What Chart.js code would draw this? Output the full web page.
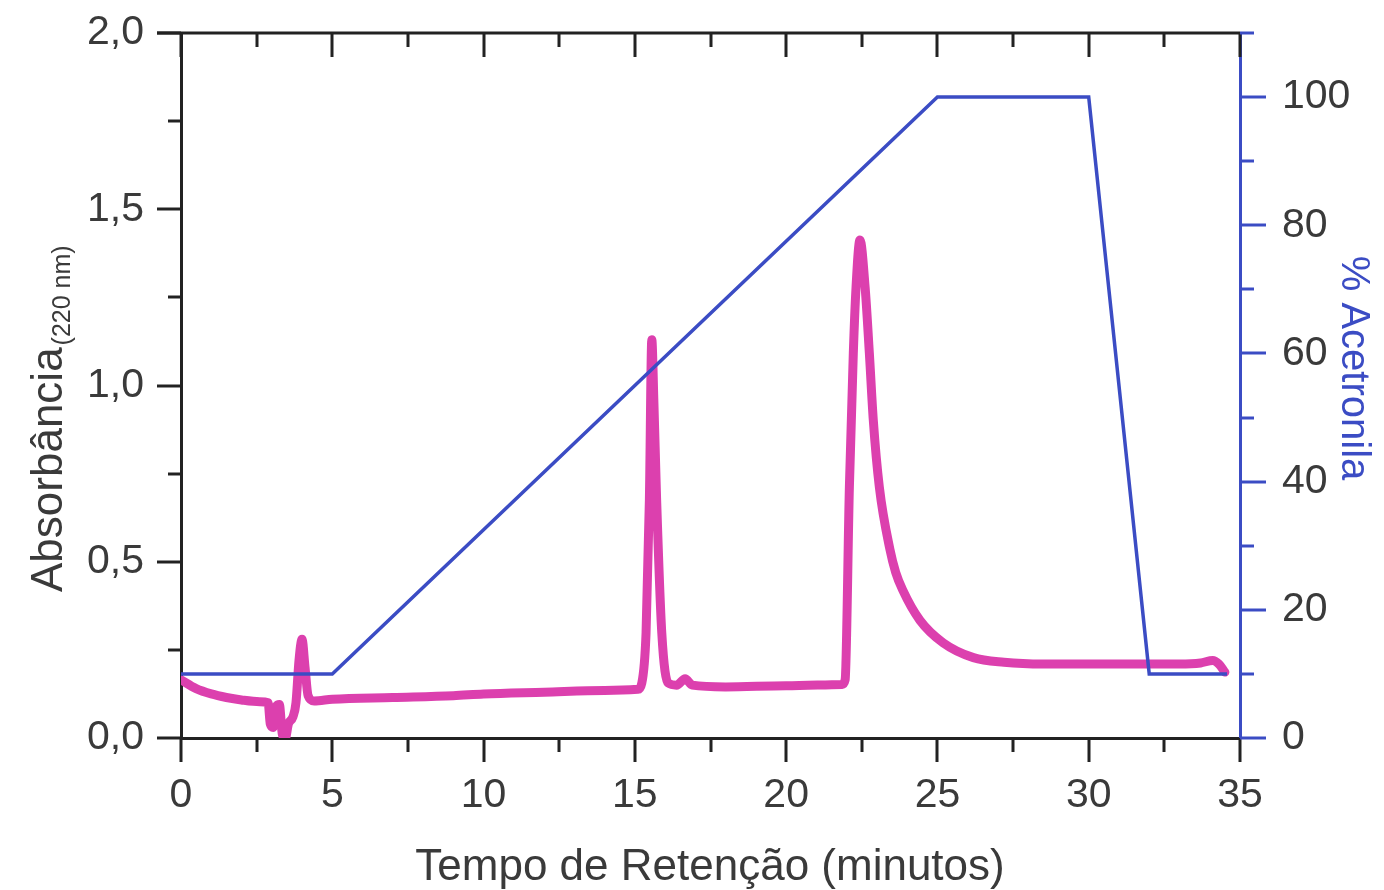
<!DOCTYPE html>
<html>
<head>
<meta charset="utf-8">
<script src="https://cdn.jsdelivr.net/npm/chart.js@4"></script>
<style>
  html, body { margin: 0; padding: 0; background: #ffffff; }
  #wrap { width: 1384px; height: 890px; }
</style>
</head>
<body>
<div id="wrap"><canvas id="grafico" width="1384" height="890"></canvas></div>
<script>
// tempo de retenção (min) e absorbância a 220 nm
const tempoAbs = [0, 0.5, 1.0, 1.5, 2.0, 2.6, 2.88, 2.95, 3.05, 3.15, 3.25, 3.35, 3.45, 3.55, 3.7, 3.8, 3.9, 4.0, 4.1, 4.2, 4.4,
  5, 7, 9, 10, 12, 14, 15.1, 15.23, 15.37, 15.48, 15.56, 15.63, 15.72, 15.89, 16.1, 16.38, 16.66, 16.9, 18, 20, 21.85,
  21.95, 22.09, 22.22, 22.31, 22.44, 22.61, 22.75, 22.88, 23.08, 23.43, 23.62, 23.85, 24.42, 25.19, 26.19, 27.2, 28.5, 30, 31, 32, 33, 33.7, 34.1, 34.3, 34.5];
const absorbancia = [0.165, 0.14, 0.125, 0.115, 0.108, 0.103, 0.10, 0.04, 0.03, 0.09, 0.095, 0.01, 0.0, 0.04, 0.06, 0.10, 0.22, 0.28, 0.2, 0.12, 0.105,
  0.11, 0.115, 0.12, 0.125, 0.13, 0.135, 0.138, 0.156, 0.298, 0.675, 1.13, 0.95, 0.675, 0.298, 0.156, 0.15, 0.168, 0.15, 0.145, 0.148, 0.152,
  0.165, 0.712, 1.092, 1.279, 1.413, 1.279, 1.092, 0.902, 0.712, 0.535, 0.47, 0.42, 0.334, 0.270, 0.228, 0.215, 0.21, 0.21, 0.21, 0.21, 0.21, 0.213, 0.22, 0.21, 0.187];

// gradiente de acetonitrila (%)
const tempoGrad = [0, 5, 25, 30, 32, 34.57];
const acetonitrila = [10, 10, 100, 100, 10, 10];

const rotulosX = [0, 5, 10, 15, 20, 25, 30, 35];

const corAbs = '#dc40ae';
const corGrad = '#3b4cc4';
const corEixo = '#222222';
const corTexto = '#3a3a3a';
const fonte = '"Liberation Sans", Arial, sans-serif';

function pares(xs, ys) {
    return xs.map((x, i) => ({ x: x, y: ys[i] }));
}

function semPadding(s) {
    s.paddingTop = 0;
    s.paddingBottom = 0;
    s.paddingLeft = 0;
    s.paddingRight = 0;
}

// marcas dos eixos (maiores e menores) e títulos
const eixosPlugin = {
    id: 'eixos',
    afterDraw(chart) {
        const ctx = chart.ctx;
        const sx = chart.scales.x, sy = chart.scales.y, sy1 = chart.scales.y1;
        const a = chart.chartArea;
        ctx.save();
        ctx.lineCap = 'butt';
        ctx.lineWidth = 3;
        ctx.strokeStyle = corEixo;

        // eixo superior
        ctx.beginPath();
        ctx.moveTo(a.left - 24, a.top);
        ctx.lineTo(a.right, a.top);
        ctx.stroke();

        // marcas em x (baixo para fora, cima para dentro)
        for (let t = 0; t <= 35.001; t += 2.5) {
            const px = Math.round(sx.getPixelForValue(t));
            const maior = Math.abs(t % 5) < 0.01;
            const len = maior ? 24 : 14;
            ctx.beginPath();
            ctx.moveTo(px, a.bottom);
            ctx.lineTo(px, a.bottom + len);
            ctx.moveTo(px, a.top);
            ctx.lineTo(px, a.top + len);
            ctx.stroke();
        }
        // marcas no eixo esquerdo
        for (let v = 0; v <= 2.001; v += 0.25) {
            const py = Math.round(sy.getPixelForValue(v));
            const maior = Math.abs((v * 2) % 1) < 0.01;
            const len = maior ? 24 : 13;
            ctx.beginPath();
            ctx.moveTo(a.left, py);
            ctx.lineTo(a.left - len, py);
            ctx.stroke();
        }
        // marcas no eixo direito (azul)
        ctx.strokeStyle = corGrad;
        for (let p = 0; p <= 110; p += 10) {
            const py = Math.round(sy1.getPixelForValue(p));
            const len = (p % 20 === 0) ? 26 : 14;
            ctx.beginPath();
            ctx.moveTo(a.right, py);
            ctx.lineTo(a.right + len, py);
            ctx.stroke();
        }

        // título do eixo x
        ctx.fillStyle = corTexto;
        ctx.font = '44px ' + fonte;
        ctx.textAlign = 'center';
        ctx.textBaseline = 'alphabetic';
        ctx.fillText('Tempo de Retenção (minutos)', 710, 880);

        // título do eixo esquerdo com subscrito
        ctx.save();
        ctx.translate(62, 592);
        ctx.rotate(-Math.PI / 2);
        ctx.textAlign = 'left';
        ctx.fillText('Absorbância', 0, 0);
        const w = ctx.measureText('Absorbância').width;
        ctx.font = '25px ' + fonte;
        ctx.fillText('(220 nm)', w + 2, 8);
        ctx.restore();

        // título do eixo direito
        ctx.save();
        ctx.fillStyle = corGrad;
        ctx.font = '40px ' + fonte;
        ctx.translate(1342, 368);
        ctx.rotate(Math.PI / 2);
        ctx.textAlign = 'center';
        ctx.fillText('% Acetronila', 0, 0);
        ctx.restore();

        ctx.restore();
    }
};

const ctx = document.getElementById('grafico').getContext('2d');
new Chart(ctx, {
    type: 'line',
    data: {
        datasets: [
            {
                label: '% Acetronila',
                data: pares(tempoGrad, acetonitrila),
                yAxisID: 'y1',
                borderColor: corGrad,
                borderWidth: 3.5,
                pointRadius: 0,
                tension: 0
            },
            {
                label: 'Absorbância',
                data: pares(tempoAbs, absorbancia),
                yAxisID: 'y',
                borderColor: corAbs,
                borderWidth: 9,
                pointRadius: 0,
                cubicInterpolationMode: 'monotone',
                borderCapStyle: 'round',
                borderJoinStyle: 'round'
            }
        ]
    },
    options: {
        responsive: false,
        animation: false,
        layout: { padding: { top: 33, left: 0, right: 0, bottom: 0 } },
        plugins: { legend: { display: false }, tooltip: { enabled: false } },
        scales: {
            x: {
                type: 'linear',
                min: 0,
                max: 35,
                afterFit: s => { s.height = 152; semPadding(s); },
                afterBuildTicks: s => { s.ticks = rotulosX.map(v => ({ value: v })); },
                grid: { display: true, drawOnChartArea: false, drawTicks: false },
                border: { display: true, color: corEixo, width: 3 },
                ticks: {
                    padding: 33,
                    color: corTexto,
                    font: { family: fonte, size: 41 },
                    maxRotation: 0,
                    callback: v => String(v)
                }
            },
            y: {
                position: 'left',
                min: 0,
                max: 2,
                afterFit: s => { s.width = 181; semPadding(s); },
                grid: { display: true, drawOnChartArea: false, drawTicks: false },
                border: { display: true, color: corEixo, width: 3 },
                ticks: {
                    stepSize: 0.5,
                    padding: 37,
                    color: corTexto,
                    font: { family: fonte, size: 41 },
                    callback: v => v.toFixed(1).replace('.', ',')
                }
            },
            y1: {
                position: 'right',
                min: 0,
                max: 110,
                afterFit: s => { s.width = 144; semPadding(s); },
                grid: { display: true, drawOnChartArea: false, drawTicks: false },
                border: { display: true, color: corGrad, width: 3 },
                ticks: {
                    stepSize: 20,
                    padding: 42,
                    color: corTexto,
                    font: { family: fonte, size: 41 },
                    callback: v => (v % 20 === 0 ? String(v) : '')
                }
            }
        }
    },
    plugins: [eixosPlugin]
});
</script>
</body>
</html>
